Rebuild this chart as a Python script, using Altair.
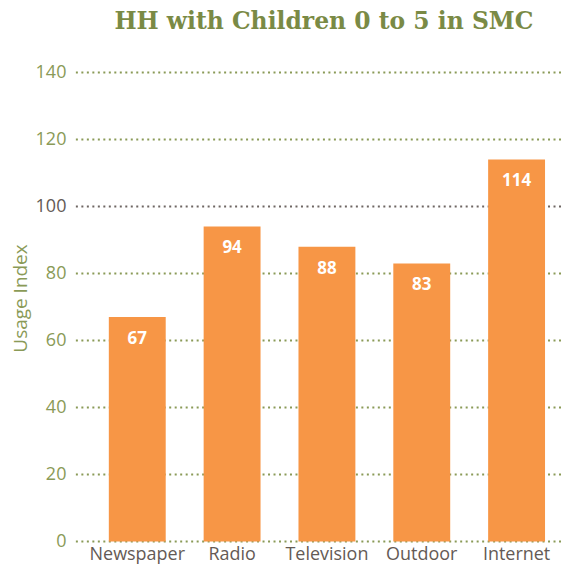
import altair as alt
import pandas as pd

categories = ["Newspaper", "Radio", "Television", "Outdoor", "Internet"]
values = [67, 94, 88, 83, 114]
grid_values = [0, 20, 40, 60, 80, 100, 120, 140]
grid_colors = ["olive", "olive", "olive", "olive", "olive", "grey", "olive", "olive"]

df = pd.DataFrame({"category": categories, "value": values})
gdf = pd.DataFrame({"y": grid_values, "c": grid_colors})

OLIVE = "#8A9A57"
TITLE_OLIVE = "#7A8A45"
GREY = "#645a55"
ORANGE = "#F79646"
FONT = "Open Sans"

yscale = alt.Scale(domain=[0, 140], nice=False, zero=True)

grid = alt.Chart(gdf).mark_rule(strokeWidth=2, strokeDash=[2, 3.5]).encode(
    y=alt.Y("y:Q", scale=yscale),
    x=alt.value(-14),
    x2=alt.value(480),
    color=alt.Color("c:N", scale=alt.Scale(domain=["olive", "grey"], range=[OLIVE, "#6e6663"]), legend=None),
)

bars = alt.Chart(df).mark_bar(color=ORANGE).encode(
    x=alt.X("category:N", sort=categories,
            scale=alt.Scale(paddingInner=0.4, paddingOuter=0.2),
            axis=alt.Axis(title=None, labelAngle=0, domain=False, ticks=False,
                          labelPadding=4, labelFontSize=18, labelFont=FONT,
                          labelColor=GREY)),
    y=alt.Y("value:Q", scale=yscale,
            axis=alt.Axis(values=grid_values, grid=False, domain=False, ticks=False,
                          labelPadding=24, labelFontSize=18, labelFont=FONT,
                          labelColor=alt.ExprRef("datum.value == 100 ? '%s' : '%s'" % (GREY, OLIVE)),
                          title="Usage Index", titleFont=FONT, titleFontSize=19,
                          titleFontWeight="normal", titleColor=OLIVE,
                          titleX=-69, titleY=226, titleAngle=-90,
                          titleAlign="center", titleBaseline="middle")),
)

labels = alt.Chart(df).mark_text(color="white", fontWeight="bold", fontSize=17,
                                 font=FONT, dy=22, baseline="middle").encode(
    x=alt.X("category:N", sort=categories),
    y=alt.Y("value:Q", scale=yscale),
    text=alt.Text("value:Q"),
)

chart = alt.layer(grid, bars, labels).resolve_scale(color="independent").properties(
    width=475, height=470,
    autosize=alt.AutoSizeParams(type="none"),
    padding={"left": 82, "top": 64, "right": 0, "bottom": 24},
    title=alt.TitleParams("HH with Children 0 to 5 in SMC", font="DejaVu Serif",
                          fontSize=23.5, fontWeight="bold", color=TITLE_OLIVE,
                          anchor="middle", dx=-3, offset=30),
).configure_view(stroke=None)

chart.save("out.html", embed_options={"renderer": "svg", "actions": False})
